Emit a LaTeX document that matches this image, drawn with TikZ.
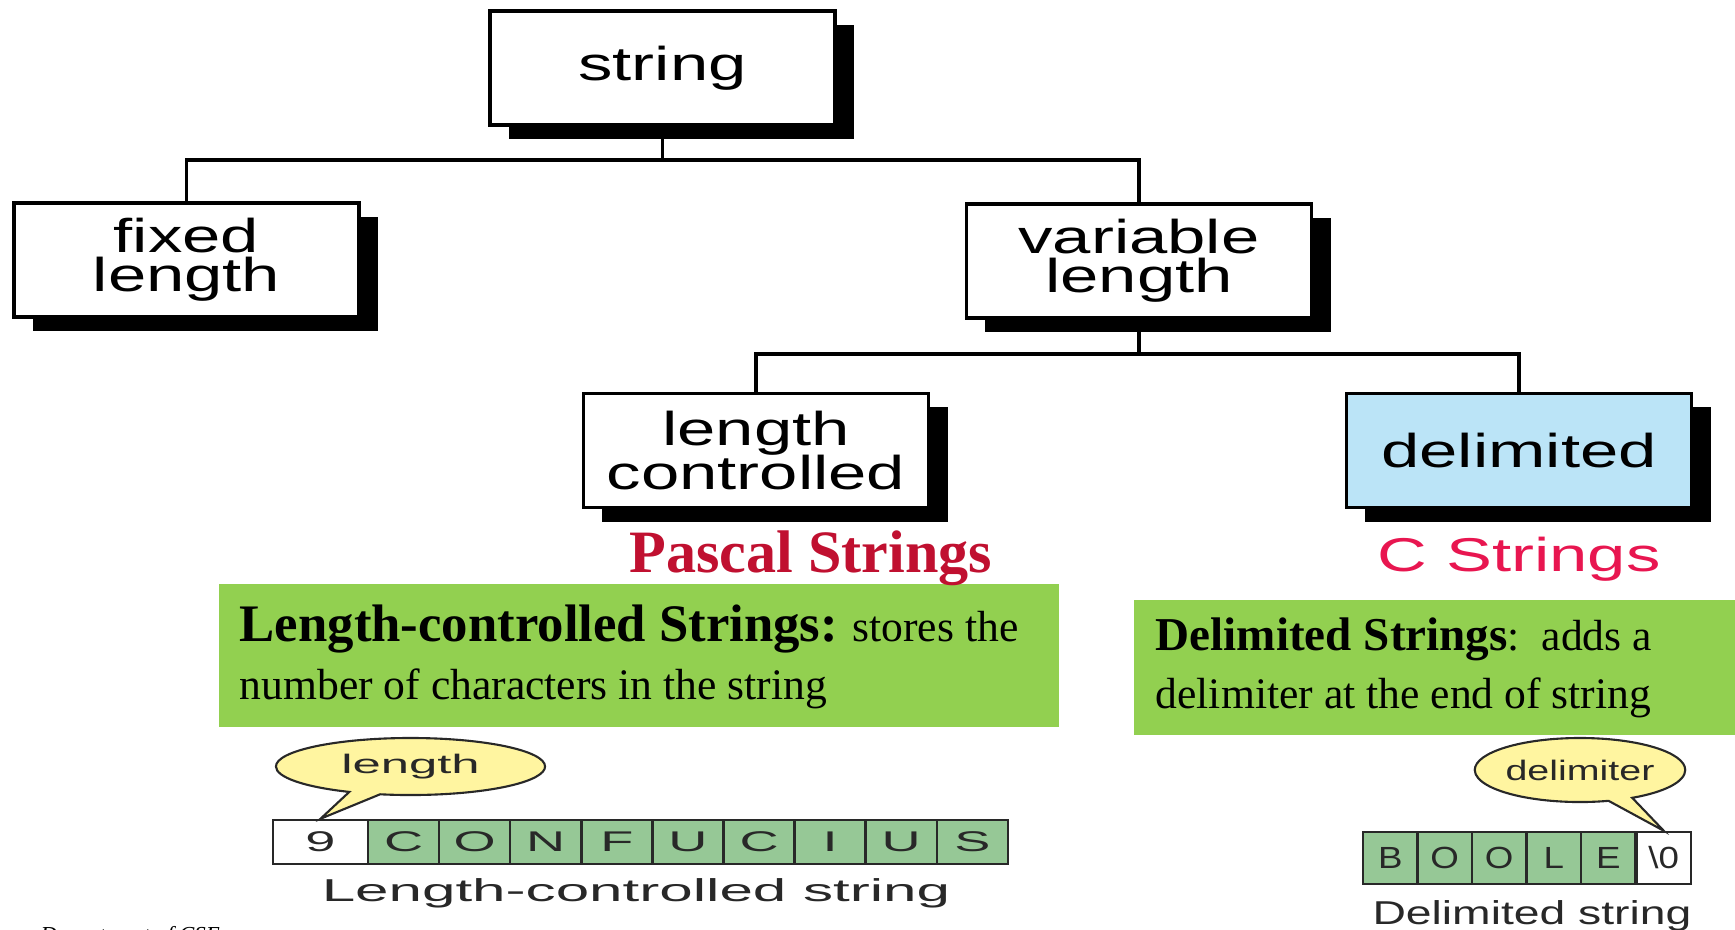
\documentclass[tikz,border=0pt]{standalone}
\usepackage{fontspec}
\setmainfont{Liberation Serif}
\newfontfamily\boxsans{Liberation Sans}[FakeStretch=1.45]
\newfontfamily\lcsans{Liberation Sans}[FakeStretch=1.9]
\newfontfamily\dsans{Liberation Sans}[FakeStretch=1.4]
\newfontfamily\csans{Liberation Sans}[FakeStretch=1.2]
\newcommand\treefont{\boxsans\fontsize{13.5}{11.2}\selectfont\lineskiplimit=-20pt\relax}
\usetikzlibrary{shadows,shapes.callouts}
\definecolor{boxblue}{RGB}{187,228,247}
\definecolor{notegreen}{RGB}{146,208,80}
\definecolor{cellgreen}{RGB}{150,200,150}
\definecolor{bubbleyellow}{RGB}{255,245,160}
\definecolor{pascalred}{RGB}{192,16,48}
\definecolor{cred}{RGB}{232,22,80}
\definecolor{inkgray}{RGB}{40,40,40}
\tikzset{
  treebox/.style={draw, line width=0.95pt, fill=white, minimum width=3.45cm, minimum height=1.14cm,
    inner sep=0pt, align=center, font=\treefont,
    general shadow={fill=black, shadow xshift=0.19cm, shadow yshift=-0.14cm}},
  conn/.style={line width=1pt},
  note/.style={fill=notegreen, inner sep=0pt},
  noteline/.style={anchor=base west, inner sep=0pt, font=\fontsize{12.4}{15}\selectfont},
  lcell/.style={draw=inkgray, line width=0.7pt, fill=cellgreen, minimum width=0.711cm, minimum height=0.44cm,
    inner sep=0pt, text=inkgray, font=\lcsans\fontsize{8.1}{9}\selectfont},
  dcell/.style={draw=inkgray, line width=0.7pt, fill=cellgreen, minimum width=0.545cm, minimum height=0.52cm,
    inner sep=0pt, text=inkgray, font=\csans\fontsize{8.7}{10}\selectfont},
  bubble/.style={ellipse callout, draw=inkgray, line width=0.6pt, fill=bubbleyellow, inner sep=0pt,
    text=inkgray, callout pointer arc=14}
}
\begin{document}
\begin{tikzpicture}[x=0.01cm,y=-0.01cm]
\useasboundingbox (0,0) rectangle (1735,929);
\clip (0,0) rectangle (1735,929);
\node[treebox] (string) at (662.5,68) {string};
\node[treebox] (fixed) at (186.5,260) {fixed\\length};
\node[treebox] (variable) at (1139,261) {variable\\length};
\node[treebox] (lenctrl) at (756,450.5) {length\\[1.3pt]controlled};
\node[treebox,fill=boxblue] (delim) at (1519,450.5) {delimited};
\coordinate (split1) at (662.5,160);
\coordinate (split2) at (1139,354);
\path[draw,conn] (string.south) -- (split1);
\path[draw,conn] (fixed.north) |- (split1) -| (variable.north);
\path[draw,conn] (variable.south) -- (split2);
\path[draw,conn] (lenctrl.north) |- (split2) -| (delim.north);
\node[note, minimum width=8.4cm, minimum height=1.43cm] (lcnote) at (639,655.5) {};
\node[note, minimum width=6.1cm, minimum height=1.35cm] (dnote) at (1439,667.5) {};
\node[font=\bfseries\fontsize{17.1}{20}\selectfont, text=pascalred, anchor=base] (pascal) at (811,572) {Pascal Strings};
\node[font=\boxsans\fontsize{13.5}{16}\selectfont, text=cred, anchor=base] (cstr) at (1519,571) {C Strings};
\node[noteline] (lcline1) at (239,641)
  {{\fontsize{15}{18}\selectfont\bfseries Length-controlled Strings:} stores the};
\node[noteline] (lcline2) at (239,699) {number of characters in the string};
\node[noteline] (dline1) at (1155,650)
  {{\fontsize{13.4}{16}\selectfont\bfseries Delimited Strings}:~~adds a};
\node[noteline] (dline2) at (1155,708) {delimiter at the end of string};
\node[lcell, fill=white, minimum width=0.95cm] (lc0) at (320.5,842) {9};
\foreach \ch [count=\i] in {C,O,N,F,U,C,I,U,S}
  \node[lcell] (lc\i) at ({368+71.1*\i-35.55},842) {\ch};
\node[bubble, minimum width=2.69cm, minimum height=0.57cm, callout absolute pointer={(lc0.north)},
  font=\lcsans\fontsize{7.6}{9}\selectfont] (lenbub) at (410.5,766.5) {length};
\node[font=\lcsans\fontsize{9}{10}\selectfont, text=inkgray, anchor=base] (lclabel) at (636,901) {Length-controlled string};
\foreach \ch [count=\i] in {B,O,O,L,E}
  \node[dcell] (dc\i) at ({1363+54.5*\i-27.25},858) {\ch};
\node[dcell, fill=white] (dc6) at (1663.75,858) {\textbackslash0};
\node[bubble, minimum width=2.06cm, minimum height=0.64cm, callout absolute pointer={(dc6.north)},
  font=\dsans\fontsize{8}{9}\selectfont] (delbub) at (1580,770) {delimiter};
\node[font=\dsans\fontsize{9.4}{11}\selectfont, text=inkgray, anchor=base] (dlabel) at (1532,924) {Delimited string};
\node[anchor=base west, inner sep=0pt, font=\itshape\fontsize{6.5}{8}\selectfont] (dept) at (40,942) {Department of CSE};
\end{tikzpicture}
\end{document}
